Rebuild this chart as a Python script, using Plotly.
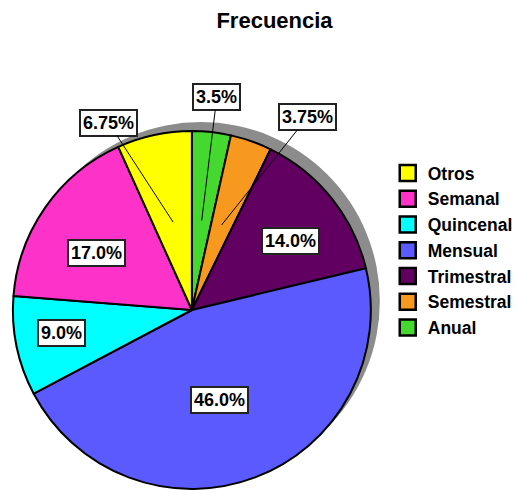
import math
import plotly.graph_objects as go

# Data (counter-clockwise from 12 o'clock, also the legend order)
categories = ["Otros", "Semanal", "Quincenal", "Mensual", "Trimestral", "Semestral", "Anual"]
percentages = [6.75, 17.0, 9.0, 46.0, 14.0, 3.75, 3.5]
label_text = ["6.75%", "17.0%", "9.0%", "46.0%", "14.0%", "3.75%", "3.5%"]
colors = ["#FFFF00", "#FD33C9", "#00FFFF", "#5A5AFF", "#620062", "#F7981F", "#45D82F"]

# Label placement (styling): angle (deg) and radius fraction of the box, leader line flag
label_angle = [114, 149, 190, 287, 35, 59, 83.3]
label_rfrac = [1.14, 0.62, 0.74, 0.52, 0.67, 1.25, 1.19]
leader = [True, False, False, False, False, True, True]

W, H = 518, 493
CX, CY, R = 193, 310, 180
SHADOW_DX, SHADOW_DY = 9, -9
FONT = "Liberation Sans"

def dom(cx, cy, r):
    return dict(x=[(cx - r) / W, (cx + r) / W], y=[1 - (cy + r) / H, 1 - (cy - r) / H])

fig = go.Figure()
# shadow disc
fig.add_trace(go.Pie(
    values=[1], labels=[" "], marker=dict(colors=["#8C8C8C"], line=dict(width=0)),
    domain=dom(CX + SHADOW_DX, CY + SHADOW_DY, R), textinfo="none", hoverinfo="skip",
    showlegend=False, sort=False))
# main pie: drawn clockwise from 12 o'clock with the reversed order
fig.add_trace(go.Pie(
    values=percentages[::-1], labels=categories[::-1], sort=False, direction="clockwise",
    rotation=0, marker=dict(colors=colors[::-1], line=dict(color="black", width=2)),
    domain=dom(CX, CY, R), textinfo="none", hoverinfo="label+percent", showlegend=False))

# legend entries (square swatches)
for name, col in zip(categories, colors):
    fig.add_trace(go.Scatter(
        x=[None], y=[None], mode="markers", name=name, hoverinfo="skip",
        marker=dict(symbol="square", size=16, color=col, line=dict(color="black", width=2.5))))

# labels
total = sum(percentages)
cum = 0.0
for i, v in enumerate(percentages):
    mid = 90 + (cum + v / 2) / total * 360
    cum += v
    a = math.radians(label_angle[i])
    bx = CX + label_rfrac[i] * R * math.cos(a)
    by = CY - label_rfrac[i] * R * math.sin(a)
    common = dict(text=label_text[i], xref="paper", yref="paper",
                  xanchor="center", yanchor="middle",
                  font=dict(family=FONT, size=18, color="black", weight="bold"),
                  bgcolor="white", bordercolor="#222222", borderwidth=2, borderpad=2)
    if leader[i]:
        m = math.radians(mid)
        tx = CX + 0.5 * R * math.cos(m)
        ty = CY - 0.5 * R * math.sin(m)
        fig.add_annotation(x=tx / W, y=1 - ty / H, ax=bx - tx, ay=by - ty,
                           showarrow=True, arrowhead=0, arrowwidth=1, arrowcolor="black",
                           **common)
    else:
        fig.add_annotation(x=bx / W, y=1 - by / H, showarrow=False, **common)

fig.update_layout(
    width=W, height=H, margin=dict(l=0, r=0, t=0, b=0),
    paper_bgcolor="white", plot_bgcolor="white",
    xaxis=dict(visible=False), yaxis=dict(visible=False),
    title=dict(text="Frecuencia", x=274.5 / W, xanchor="center", y=1 - 20 / H, yanchor="middle",
               font=dict(family=FONT, size=22, color="black", weight="bold")),
    legend=dict(x=390 / W, y=1 - 155 / H, xanchor="left", yanchor="top",
                font=dict(family=FONT, size=17.5, color="black", weight="bold"),
                tracegroupgap=0, itemwidth=30, itemsizing="trace"),
)
fig.write_html("out.html", config={"displayModeBar": False},
               post_script="document.body.style.margin='0';")
